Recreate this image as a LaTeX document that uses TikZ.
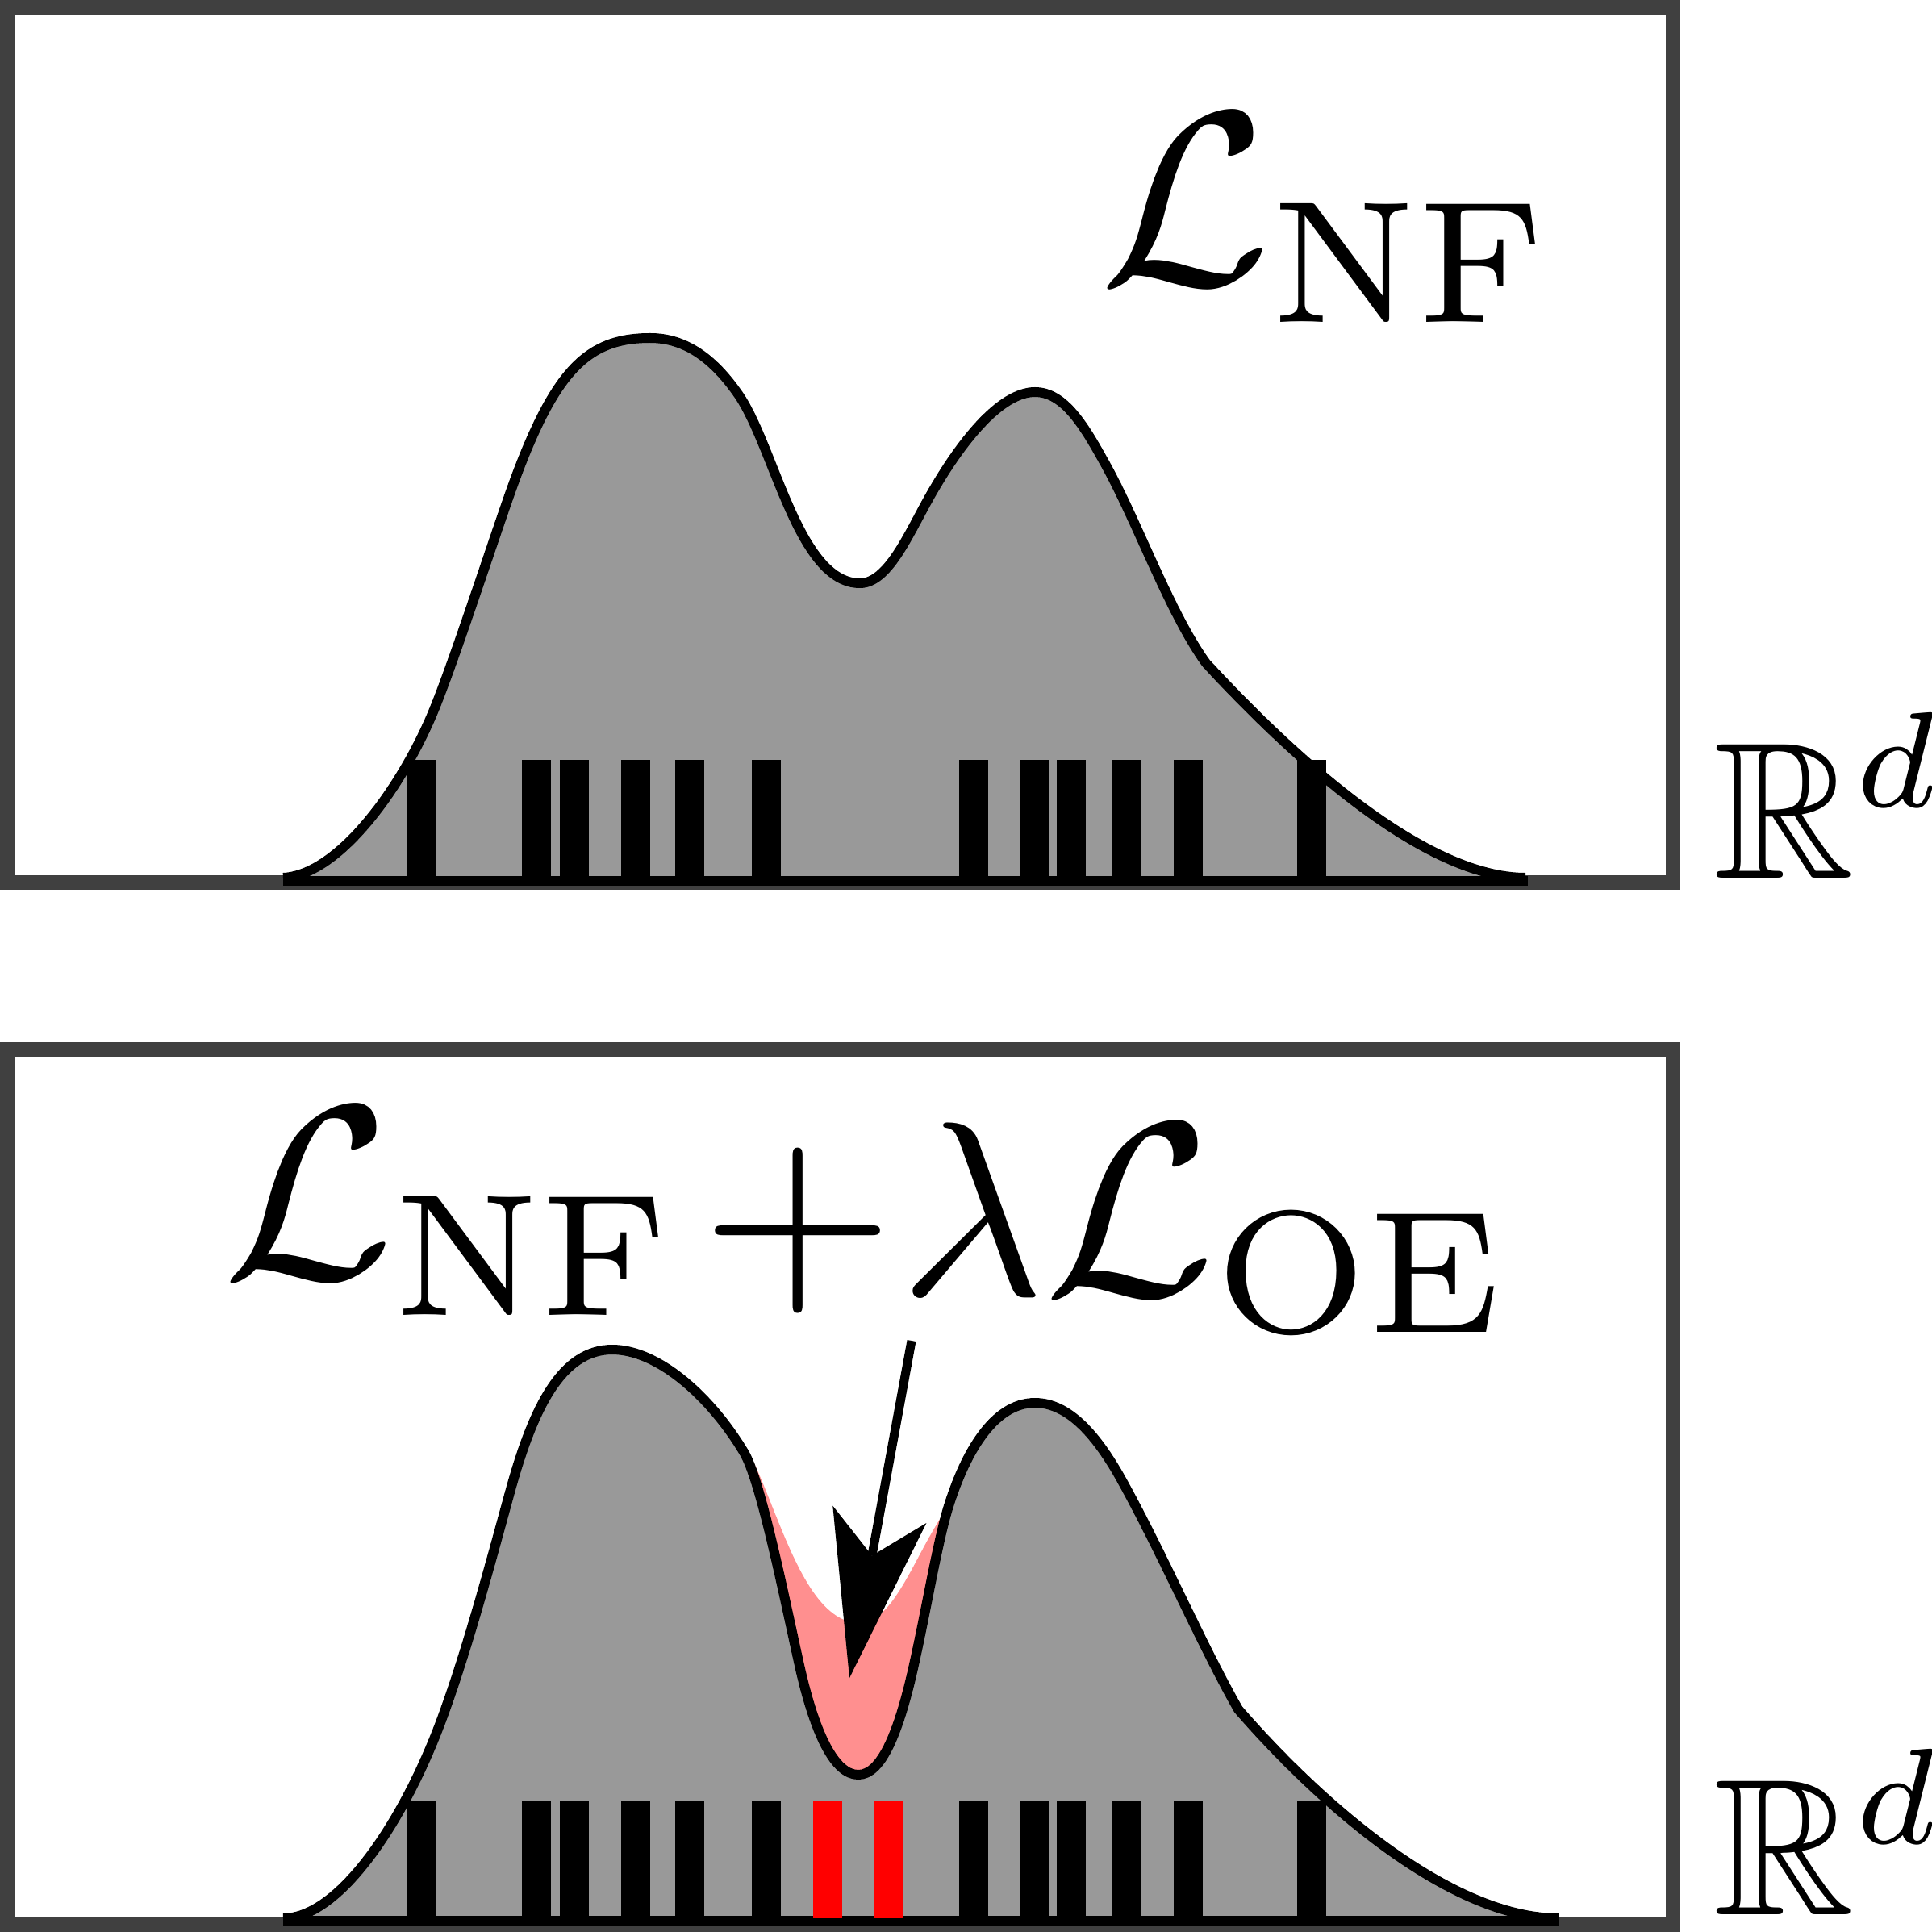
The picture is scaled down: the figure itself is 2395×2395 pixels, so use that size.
\documentclass[tikz,border=0pt]{standalone}
\usepackage{amssymb}
\usetikzlibrary{arrows.meta,calc}
\tikzset{
  panel/.style={draw=black!75, line width=0.18cm},
  density/.style={draw=black, line width=0.12cm, line join=round},
  densfill/.style={fill=black!40},
  axisline/.style={draw=black, line width=0.12cm},
  sample/.style={line width=0.36cm, draw=black},
  outlier/.style={line width=0.36cm, draw=red},
  label/.style={inner sep=0pt, anchor=base west},
  pushdown/.style={draw=black, line width=0.11cm,
    -{Stealth[length=2.06cm,width=1.18cm,inset=0.52cm,line width=0pt]}},
}
\newcommand{\oldcurve}{(351,1088) .. controls (420,1085) and (500,975) .. (540,875)
 .. controls (568,805) and (620,643) .. (640,590)
 .. controls (690,457) and (730,419) .. (806,419)
 .. controls (850,419) and (885,445) .. (916,490)
 .. controls (960,555) and (990,723) .. (1066,723)
 .. controls (1100,723) and (1125,665) .. (1150,620)
 .. controls (1190,548) and (1240,486) .. (1283,486)
 .. controls (1320,486) and (1345,530) .. (1370,575)
 .. controls (1410,647) and (1450,760) .. (1495,822)
 .. controls (1590,925) and (1760,1088) .. (1891,1088)}
\newcommand{\newcurve}{(351,2378) .. controls (420,2378) and (500,2260) .. (548,2130)
 .. controls (580,2043) and (610,1930) .. (632,1850)
 .. controls (660,1748) and (695,1673) .. (759,1673)
 .. controls (815,1673) and (880,1730) .. (922,1800)
 .. controls (942,1833) and (968,1960) .. (990,2060)
 .. controls (1010,2151) and (1035,2200) .. (1064,2200)
 .. controls (1092,2200) and (1112,2150) .. (1128,2085)
 .. controls (1145,2015) and (1160,1920) .. (1175,1870)
 .. controls (1195,1805) and (1230,1739) .. (1283,1739)
 .. controls (1325,1739) and (1360,1780) .. (1390,1834)
 .. controls (1440,1924) and (1490,2040) .. (1535,2119)
 .. controls (1640,2240) and (1800,2378) .. (1932,2378)}
\begin{document}
\begin{tikzpicture}[x=0.01cm, y=-0.01cm]
\useasboundingbox (0,0) rectangle (2395,2395);

% ---------- top panel ----------
\draw[panel] (9,9) rectangle (2074,1094);
\fill[densfill] \oldcurve -- cycle;
\draw[density] \oldcurve;
\draw[axisline] (351,1092) -- (1894,1092);
\foreach \x in {522,665,712,788,855,950,1207,1283,1328,1397,1473,1626}
  \draw[sample] (\x,942) -- (\x,1090);
\node[label, scale=8.75] (lnftop) at (1357,353) {$\mathcal{L}_{\mathrm{NF}}$};
\node[label, scale=6.86] (rtop) at (2120,1088) {$\mathbb{R}^d$};

% ---------- bottom panel ----------
\draw[panel] (9,1301) rectangle (2074,2386);
\begin{scope}
  \clip (935,1600) rectangle (1178,2390);
  \fill[red!44, shift={(0,1289)}] \oldcurve -- cycle;
\end{scope}
\fill[densfill] \newcurve -- cycle;
\draw[density] \newcurve;
\draw[axisline] (351,2381) -- (1932,2381);
\foreach \x in {522,665,712,788,855,950,1207,1283,1328,1397,1473,1626}
  \draw[sample] (\x,2232) -- (\x,2378);
\foreach \x in {1026,1102}
  \draw[outlier] (\x,2232) -- (\x,2378);
\node[label, scale=8.75] (lnfbot) at (270,1584) {$\mathcal{L}_{\mathrm{NF}}$};
\node[inner sep=0pt, anchor=center, scale=8.75] (plus) at (989,1526) {$+$};
\node[label, scale=8.75] (loe) at (1109,1605) {$\lambda\mathcal{L}_{\mathrm{OE}}$};
\node[label, scale=6.86] (rbot) at (2120,2373) {$\mathbb{R}^d$};

\coordinate (arrowstart) at (1130,1662);
\coordinate (valley) at (1053,2080);
\draw[pushdown] (arrowstart) -- (valley);
\end{tikzpicture}
\end{document}
